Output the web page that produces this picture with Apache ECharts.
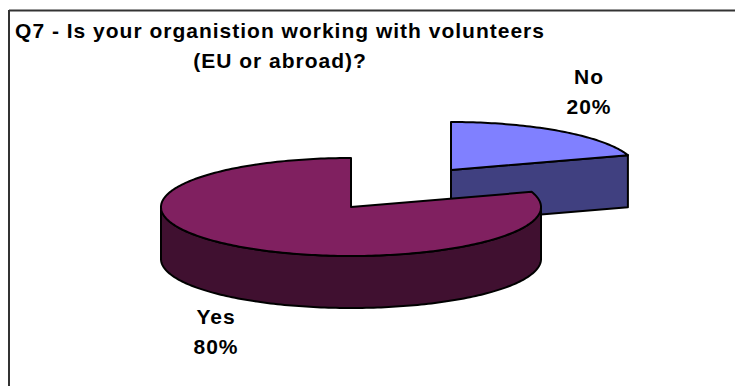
<!DOCTYPE html>
<html>
<head>
<meta charset="utf-8">
<style>html,body{margin:0;padding:0;background:#fff}#chart{width:735px;height:386px}svg text{letter-spacing:1px}</style>
<script src="https://cdn.jsdelivr.net/npm/echarts@6/dist/echarts.min.js"></script>
</head>
<body>
<div id="chart"></div>
<script>
// Survey answers for question 7
const categories = ['No', 'Yes'];
const shares = [20, 80];
const titleText = 'Q7 - Is your organistion working with volunteers\n(EU or abroad)?';

// Appearance of each slice
const topColors = ['#8080FF', '#802060'];
const sideColors = ['#404080', '#401030'];
const sliceCentres = [[451, 170], [351, 207]];
const sliceRadii = [[186, 48], [190, 49]];
const labelCentres = [[589, 91], [216, 331]];
const depth = 52;
const outline = { stroke: '#000', lineWidth: 2, lineJoin: 'round' };

// A point on the tilted disc; the angle runs clockwise from twelve o'clock.
function rim(c, r, a, dy) {
  return [c[0] + r[0] * Math.sin(a), c[1] - r[1] * Math.cos(a) + (dy || 0)];
}

function arc(c, r, from, to, dy) {
  const steps = Math.max(2, Math.ceil(Math.abs(to - from) / 0.02));
  const pts = [];
  for (let i = 0; i <= steps; i++) pts.push(rim(c, r, from + (to - from) * i / steps, dy));
  return pts;
}

function renderSlice(params, api) {
  const i = params.dataIndex;
  const c = sliceCentres[i], r = sliceRadii[i];
  let before = 0;
  for (let k = 0; k < i; k++) before += shares[k];
  const total = shares.reduce((a, b) => a + b, 0);
  const start = before / total * 2 * Math.PI;
  const end = start + api.value(0) / total * 2 * Math.PI;
  const children = [];
  const side = (points) => children.push({
    type: 'polygon', shape: { points },
    style: Object.assign({ fill: sideColors[i] }, outline)
  });

  if (i === 0) {
    // The closing cut of the wedge faces the viewer.
    const e = rim(c, r, end);
    side([c, e, [e[0], e[1] + depth], [c[0], c[1] + depth]]);
  } else {
    // Only the rim of the front half of the disc shows below the top face.
    const front = arc(c, r, Math.max(start, Math.PI / 2), Math.min(end, 1.5 * Math.PI));
    const lower = front.map(p => [p[0], p[1] + depth]).reverse();
    side(front.concat(lower));
  }
  children.push({
    type: 'polygon',
    shape: { points: [c].concat(arc(c, r, start, end)) },
    style: Object.assign({ fill: topColors[i] }, outline)
  });
  children.push({
    type: 'text',
    style: {
      x: labelCentres[i][0], y: labelCentres[i][1],
      text: categories[i] + '\n' + Math.round(api.value(0) / total * 100) + '%',
      fill: '#000', align: 'center', verticalAlign: 'middle',
      font: 'bold 21px "Liberation Sans", Arial, sans-serif', lineHeight: 30
    }
  });
  return { type: 'group', children };
}

const chart = echarts.init(document.getElementById('chart'), null, { renderer: 'svg' });
chart.setOption({
  animation: false,
  backgroundColor: '#fff',
  title: {
    text: titleText,
    left: 275, top: 10, textAlign: 'center',
    textStyle: {
      fontFamily: '"Liberation Sans", Arial, sans-serif',
      fontWeight: 'bold', fontSize: 21, lineHeight: 30, color: '#000', align: 'center'
    }
  },
  graphic: [
    { type: 'line', shape: { x1: 9, y1: 10.5, x2: 735, y2: 10.5 }, style: { stroke: '#333', lineWidth: 2 } },
    { type: 'line', shape: { x1: 9, y1: 10, x2: 9, y2: 386 }, style: { stroke: '#333', lineWidth: 2 } }
  ],
  series: [{
    type: 'custom',
    coordinateSystem: 'none',
    renderItem: renderSlice,
    data: shares.map((v, i) => ({ name: categories[i], value: [v] }))
  }]
});
</script>
</body>
</html>
